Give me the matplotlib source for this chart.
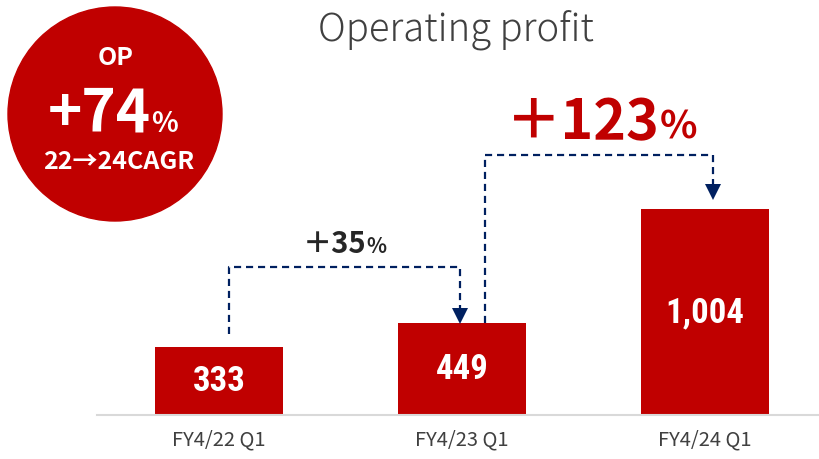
import matplotlib
matplotlib.use("Agg")
import matplotlib.pyplot as plt
from matplotlib import font_manager
from matplotlib.patches import Circle

# ---- data ----
categories = ["FY4/22 Q1", "FY4/23 Q1", "FY4/24 Q1"]
values = [333, 449, 1004]
value_labels = ["333", "449", "1,004"]
growth_small = "＋35"
growth_big = "＋123"
title = "Operating profit"
badge_top = "OP"
badge_main = "+74"
badge_bottom = "22→24CAGR"

RED = "#C00000"
NAVY = "#002060"

avail = {f.name for f in font_manager.fontManager.ttflist}
def pick(*names):
    for n in names:
        if n in avail:
            return n
    return "DejaVu Sans"

narrow = pick("Liberation Sans Narrow", "Roboto Condensed", "Noto Sans CJK JP")
jp = pick("Noto Sans CJK JP", "Noto Sans")
FAM = [jp, "DejaVu Sans"]
plt.rcParams['font.family'] = FAM

W, H = 820, 460
fig = plt.figure(figsize=(W / 100, H / 100), dpi=100)

# ---- bar axes ----
ax = fig.add_axes([97 / W, 44 / H, 723 / W, 416 / H])
x = list(range(len(values)))
ax.bar(x, values, width=0.527, color=RED, zorder=2)
ax.set_xlim(-0.502, 2.473)
ax.set_ylim(0, 2024)
ax.set_xticks(x)
ax.set_xticklabels(categories, fontsize=14.5, color="#404040")
ax.tick_params(axis="x", length=0, pad=10)
ax.set_yticks([])
for s in ["top", "left", "right"]:
    ax.spines[s].set_visible(False)
ax.spines["bottom"].set_color("#D9D9D9")
ax.spines["bottom"].set_linewidth(1.5)
ax.patch.set_alpha(0)

for xi, v, lab in zip(x, values, value_labels):
    ax.text(xi, v / 2, lab, ha="center", va="center", color="white",
            fontsize=25, fontweight="bold", family=[narrow, "DejaVu Sans"])

# connectors
dash = dict(color=NAVY, lw=1.6, linestyle=(0, (3.2, 2.2)), zorder=3)
def connector(xa, ya, yh, xb, ytip):
    ax.plot([xa, xa, xb, xb], [ya, yh, yh, ytip + 45], **dash)
    ax.plot([xb], [ytip + 30], marker="v", markersize=11, color=NAVY,
            markeredgewidth=0, zorder=4)

connector(0 + 0.041, values[0] + 61, 720, 1 - 0.008, values[1] + 5)
connector(1 + 0.095, values[1], 1265, 2 + 0.033, values[2] + 50)

# growth labels
ax.text(0.605, 793, growth_small, ha="right", va="baseline", fontsize=21,
        fontweight="bold", color="#262626")
ax.text(0.605, 793, "%", ha="left", va="baseline", fontsize=15,
        fontweight="bold", color="#262626")
ax.text(1.812, 1348, growth_big, ha="right", va="baseline", fontsize=40,
        fontweight="bold", color=RED)
ax.text(1.812, 1348, "%", ha="left", va="baseline", fontsize=28,
        fontweight="bold", color=RED)

# ---- overlay in pixel coordinates ----
ov = fig.add_axes([0, 0, 1, 1])
ov.set_xlim(0, W)
ov.set_ylim(H, 0)
ov.axis("off")
ov.patch.set_alpha(0)
ov.add_patch(Circle((115, 115), 107, color=RED, zorder=1))
ov.text(116, 58, badge_top, ha="center", va="center", fontsize=18,
        fontweight="bold", color="white")
ov.text(151, 132, badge_main, ha="right", va="baseline", fontsize=42,
        fontweight="bold", color="white")
ov.text(151, 132, "%", ha="left", va="baseline", fontsize=20,
        fontweight="bold", color="white")
ov.text(119, 162, badge_bottom, ha="center", va="center", fontsize=18,
        fontweight="bold", color="white")
ov.text(456, 30, title, ha="center", va="center", fontsize=27.5,
        color="#404040", fontweight="light")

fig.savefig("out.png", dpi=100)
